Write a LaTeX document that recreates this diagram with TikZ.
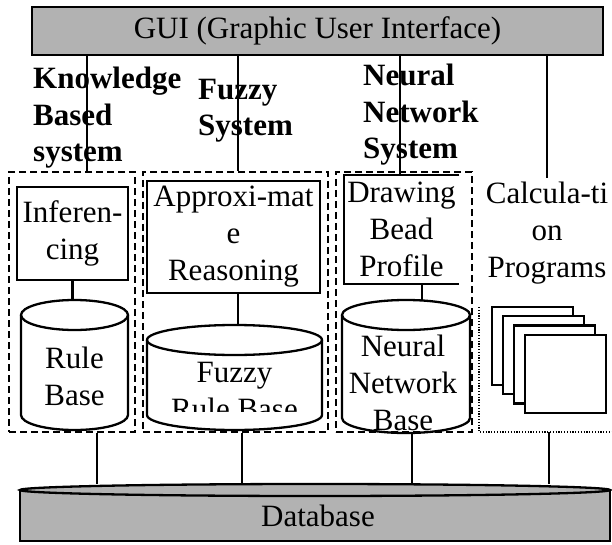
\documentclass[tikz,border=0pt]{standalone}
\usepackage{fontspec}
\setmainfont{Liberation Serif}

% cylinder: centre x, half width, top, bottom, name
\newcommand\mycyl[5]{
  \draw [line width=2.3pt] ({#1-#2},{#3+15}) -- ({#1-#2},{#4-15})
     arc [start angle=180, end angle=360, x radius=#2pt, y radius=15pt]
     -- ({#1+#2},{#3+15});
  \draw [line width=2.3pt] (#1,{#3+15}) ellipse [x radius=#2pt, y radius=15pt];
  \coordinate (#5-top) at (#1,#3);
  \coordinate (#5-bot) at (#1,#4);
}

\tikzset{
  txt/.style={font=\fontsize{31}{37}\selectfont, align=center},
  title/.style={font=\fontsize{31}{36.5}\selectfont\bfseries, align=left,
    anchor=north west, inner sep=0},
  boxed/.style={draw, line width=2.3pt, txt},
  dashbox/.style={draw, line width=2pt, dash pattern=on 7pt off 4pt,
    inner sep=0, minimum height=260pt},
  dotline/.style={line width=1.6pt, dash pattern=on 1.2pt off 1.6pt},
  conn/.style={line width=2.2pt},
  shade/.style={fill=black!30}
}

\begin{document}
\begin{tikzpicture}[x=1pt, y=-1pt]
    \useasboundingbox (0,0) rectangle (612,545);

    % top bar
    \node[draw, line width=2.6pt, shade, txt, minimum width=571pt, minimum height=48pt,
      inner sep=0] (gui) at (317.5,31) {GUI (Graphic User Interface)};

    % group titles
    \node[title] (kbt) at (33,67) {Knowledge\\Based\\system};
    \node[title] (fzt) at (198,79) {Fuzzy\\System};
    \node[title] (nnt) at (363,64) {Neural\\Network\\System};

    % dashed groups
    \node[dashbox, minimum width=126pt] (kbs) at (72,302) {};
    \node[dashbox, minimum width=185pt] (fzs) at (235.5,302) {};
    \node[dashbox, minimum width=136pt] (nns) at (404,302) {};

    % knowledge based: box and rule base
    \node[boxed, minimum width=111pt, minimum height=93pt] (inf) at (72.5,233.5) {Inferen-\\cing};
    \mycyl{74.5}{53.5}{300}{430}{rule}
    \node[txt] (rtxt) at (74.5,376) {Rule\\Base};
    \draw[conn] (inf.south) -- (inf.south |- rule-top);

    % fuzzy: box and fuzzy rule base
    \node[boxed, minimum width=173pt, minimum height=112pt] (apx) at (233.5,237) {Approxi-mat\\e\\Reasoning};
    \mycyl{234.5}{87.5}{325}{430}{fz}
    \begin{scope}
      \clip (140,330) rectangle (330,411);
      \node[txt] (ftxt) at (234.5,391) {Fuzzy\\Rule Base};
    \end{scope}
    \draw[conn] (apx.south -| 238,0) -- (fz-top -| 238,0);

    % neural: open box and network base
    \node[txt, minimum width=113pt, minimum height=109pt] (drw) at (401.5,229.5) {Drawing\\Bead\\Profile};
    \draw[line width=2.3pt] (drw.north east) -- (drw.north west) -- (drw.south west) -- (drw.south east);
    \mycyl{406}{64}{300}{433}{nn}
    \node[txt] (ntxt) at (403,383) {Neural\\Network\\Base};
    \draw[conn] (drw.south -| 422,0) -- (nn-top -| 422,0);

    % calculation programs
    \node[txt] (calc) at (547,233) {Calcula-ti\\on\\Programs};
    \coordinate (cpl) at (479,307);
    \coordinate (cpb) at (479,432);
    \draw[dotline] (cpl) -- (cpb) -- (cpb -| 612,0);
    \foreach \i in {0,...,3}
      \draw[line width=2.3pt, fill=white] ({492+11*\i},{307+9.3*\i}) rectangle ++(81,78);

    % gui down to groups
    \draw[conn] (gui.south -| 87,0) -- (kbs.north -| 87,0);
    \draw[conn] (gui.south -| 238,0) -- (fzs.north -| 238,0);
    \draw[conn] (gui.south -| 400,0) -- (drw.north -| 400,0);
    \draw[conn] (gui.south -| calc.north) -- (calc.north);

    % database
    \fill[shade] (20,490) rectangle (610,541);
    \draw[line width=2.3pt] (20,490) -- (20,541) -- (610,541) -- (610,490);
    \draw[line width=2.3pt, shade] (315,490) ellipse [x radius=295pt, y radius=6pt];
    \node[txt] (db) at (318,516) {Database};
    \coordinate (dbtop) at (315,484);

    % groups down to database
    \draw[conn] (kbs.south -| 97,0) -- (dbtop -| 97,0);
    \draw[conn] (fzs.south -| 242,0) -- (dbtop -| 242,0);
    \draw[conn] (nns.south -| 412,0) -- (dbtop -| 412,0);
    \draw[conn] (cpb -| 549,0) -- (dbtop -| 549,0);
\end{tikzpicture}
\end{document}
